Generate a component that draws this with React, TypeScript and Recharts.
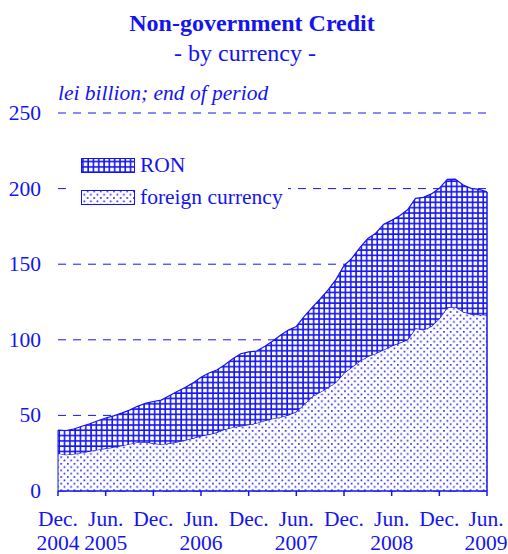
import React from 'react'
import { AreaChart, Area, XAxis, YAxis, CartesianGrid, ReferenceLine } from 'recharts'

// monthly, Dec 2004 .. Jun 2009 (lei billion)
const foreignCurrency = [
  25.0, 24.0, 24.5, 25.3, 26.3, 27.3, 28.2, 29.0, 30.0, 31.1, 32.3, 32.5,
  31.5, 31.0, 31.5, 32.5, 33.6, 35.0, 36.5, 37.5, 38.8, 40.8, 42.2, 43.0,
  43.8, 45.0, 46.5, 47.8, 48.8, 50.3, 52.5, 57.5, 62.5, 65.5, 68.5, 72.0,
  78.0, 82.0, 86.0, 89.0, 91.0, 93.5, 96.0, 98.0, 100.0, 107.6, 106.5, 109.0,
  114.0, 121.5, 121.8, 118.6, 117.0, 116.6, 116.4,
]
const ron = [
  15.3, 16.0, 16.5, 17.5, 18.2, 19.2, 20.1, 20.7, 21.5, 22.4, 23.7, 25.5,
  27.7, 29.1, 31.5, 33.3, 34.9, 36.5, 38.7, 40.5, 41.2, 42.7, 45.3, 47.8,
  48.2, 47.6, 49.0, 51.2, 54.2, 56.2, 56.3, 58.0, 59.0, 61.5, 64.5, 68.0,
  71.0, 72.0, 75.0, 78.0, 79.5, 83.0, 83.0, 84.0, 86.0, 85.9, 87.7, 87.5,
  86.2, 84.6, 84.5, 83.8, 83.2, 82.9, 81.4,
]

const tickMonths = ['Dec.', 'Jun.', 'Dec.', 'Jun.', 'Dec.', 'Jun.', 'Dec.', 'Jun.', 'Dec.', 'Jun.']
const tickYears = ['2004', '2005', '', '2006', '', '2007', '', '2008', '', '2009']
const yTicks = [0, 50, 100, 150, 200, 250]

const BLUE = '#1414f0'
const FONT = '"Liberation Serif", "Times New Roman", serif'
const FS = 21.5

const data = ron.map((r, i) => ({ idx: i, foreign: foreignCurrency[i], ron: r }))
const lastIdx = data.length - 1
const lastTotal = foreignCurrency[lastIdx] + ron[lastIdx]
const xTicks = tickMonths.map((_, i) => i * 6)

function XTick(props: any) {
  const { x, y, payload } = props
  const k = Math.round(payload.value / 6)
  const cx = k === tickMonths.length - 1 ? x - 1 : x
  return (
    <g>
      <text x={cx} y={y + 28} textAnchor="middle" fill={BLUE} fontFamily={FONT} fontSize={FS}>
        {tickMonths[k]}
      </text>
      {tickYears[k] && (
        <text x={cx} y={y + 52} textAnchor="middle" fill={BLUE} fontFamily={FONT} fontSize={FS}>
          {tickYears[k]}
        </text>
      )}
    </g>
  )
}

function YTick(props: any) {
  const { y, payload } = props
  return (
    <text x={41} y={y + 7} textAnchor="end" fill={BLUE} fontFamily={FONT} fontSize={FS}>
      {payload.value}
    </text>
  )
}

function Patterns({ prefix }: { prefix: string }) {
  return (
    <defs>
      <pattern id={prefix + 'grid'} width="5.3" height="5.3" patternUnits="userSpaceOnUse">
        <rect width="5.3" height="5.3" fill="#fff" />
        <line x1="1" y1="0" x2="1" y2="5.3" stroke={BLUE} strokeWidth={1.6} />
        <line x1="0" y1="1" x2="5.3" y2="1" stroke={BLUE} strokeWidth={1.6} />
      </pattern>
      <pattern id={prefix + 'dots'} width="6.6" height="6.6" patternUnits="userSpaceOnUse">
        <rect width="6.6" height="6.6" fill="#fff" />
        <rect x="1" y="1" width="1.6" height="1.6" fill={BLUE} />
        <rect x="4.3" y="4.3" width="1.6" height="1.6" fill={BLUE} />
      </pattern>
    </defs>
  )
}

function LegendBox() {
  const items = [
    { label: 'RON', fill: 'lgrid', y: 8 },
    { label: 'foreign currency', fill: 'ldots', y: 40 },
  ]
  return (
    <svg width={222} height={62} style={{ display: 'block' }}>
      <Patterns prefix="l" />
      <rect width={222} height={62} fill="#fff" />
      {items.map((it) => (
        <g key={it.label}>
          <rect x={15.5} y={it.y + 0.5} width={53} height={14} fill={`url(#${it.fill})`} stroke={BLUE} strokeWidth={1} />
          <text x={74} y={it.y + 14} fill={BLUE} fontFamily={FONT} fontSize={FS}>
            {it.label}
          </text>
        </g>
      ))}
    </svg>
  )
}

export default function App() {
  return (
    <div style={{ position: 'absolute', left: 0, top: 0, width: 508, height: 554, background: '#fff', fontFamily: FONT, color: BLUE }}>
      <AreaChart width={508} height={554} data={data} margin={{ top: 113, right: 21, bottom: 0, left: 0 }}>
        <Patterns prefix="c" />
        <CartesianGrid vertical={false} stroke={BLUE} strokeDasharray="8 7" strokeWidth={1} />
        <XAxis
          dataKey="idx"
          type="number"
          domain={[0, lastIdx]}
          ticks={xTicks}
          interval={0}
          height={63}
          tickSize={5}
          axisLine={{ stroke: BLUE, strokeWidth: 1.5 }}
          tickLine={{ stroke: BLUE, strokeWidth: 1.5 }}
          tick={<XTick />}
        />
        <YAxis width={58} domain={[0, 250]} ticks={yTicks} axisLine={false} tickLine={false} tick={<YTick />} />
        <Area
          type="linear"
          dataKey="foreign"
          stackId="1"
          stroke={BLUE}
          strokeWidth={1.2}
          fill="url(#cdots)"
          fillOpacity={1}
          isAnimationActive={false}
        />
        <Area
          type="linear"
          dataKey="ron"
          stackId="1"
          stroke={BLUE}
          strokeWidth={1.2}
          fill="url(#cgrid)"
          fillOpacity={1}
          isAnimationActive={false}
        />
        <ReferenceLine segment={[{ x: lastIdx, y: 0 }, { x: lastIdx, y: lastTotal }]} stroke={BLUE} strokeWidth={1.5} />
        <ReferenceLine segment={[{ x: 0, y: 0 }, { x: 0, y: foreignCurrency[0] + ron[0] }]} stroke={BLUE} strokeWidth={1} />
      </AreaChart>
      <div style={{ position: 'absolute', left: 0, width: 504, top: 10, textAlign: 'center', fontWeight: 'bold', fontSize: 24, lineHeight: 'normal' }}>
        Non-government Credit
      </div>
      <div style={{ position: 'absolute', left: 0, width: 490, top: 40, textAlign: 'center', fontSize: 24, lineHeight: 'normal' }}>
        - by currency -
      </div>
      <div style={{ position: 'absolute', left: 58, top: 81, fontStyle: 'italic', fontSize: FS, lineHeight: 'normal' }}>
        lei billion; end of period
      </div>
      <div style={{ position: 'absolute', left: 66, top: 150 }}>
        <LegendBox />
      </div>
    </div>
  )
}
